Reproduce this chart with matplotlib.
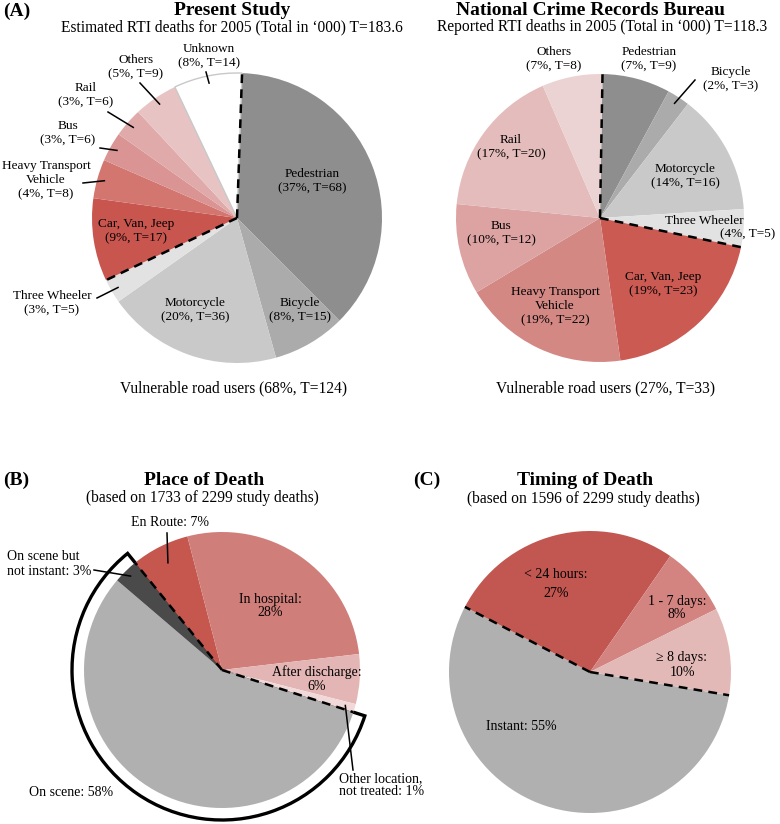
import numpy as np
import matplotlib.pyplot as plt

plt.rcParams['font.family'] = ['Liberation Serif', 'DejaVu Serif']

W, H = 780, 824

# (A) present study vs NCRB
study_labels = ['Pedestrian', 'Bicycle', 'Motorcycle', 'Three Wheeler', 'Car, Van, Jeep',
                'Heavy Transport\nVehicle', 'Bus', 'Rail', 'Others', 'Unknown']
study_pct = [37, 8, 20, 3, 9, 4, 3, 3, 5, 8]
study_T = [68, 15, 36, 5, 17, 8, 6, 6, 9, 14]
study_total = 183.6
study_vru = (68, 124)

ncrb_labels = ['Pedestrian', 'Bicycle', 'Motorcycle', 'Three Wheeler', 'Car, Van, Jeep',
               'Heavy Transport\nVehicle', 'Bus', 'Rail', 'Others']
ncrb_pct = [7, 2, 14, 4, 19, 19, 10, 17, 7]
ncrb_T = [9, 3, 16, 5, 23, 22, 12, 20, 8]
ncrb_total = 118.3
ncrb_vru = (27, 33)

# (B) place of death
place_labels = ['On scene', 'On scene but\nnot instant', 'En Route', 'In hospital',
                'After discharge', 'Other location,\nnot treated']
place_pct = [58, 3, 7, 28, 6, 1]

# (C) timing of death
timing_labels = ['Instant', '< 24 hours', '1 - 7 days', '\u2265 8 days']
timing_pct = [55, 27, 8, 10]

study_colors = ['#8e8e8e', '#ababab', '#c9c9c9', '#e2e2e2', '#c9554f',
                '#d3766f', '#d99493', '#dfaaa9', '#e7c4c3', '#ffffff']
ncrb_colors = ['#8e8e8e', '#ababab', '#c9c9c9', '#e2e2e2', '#cb5a53',
               '#d38884', '#dca3a2', '#e3bcbb', '#ecd3d3']
place_colors = ['#b0b0b0', '#4a4a4a', '#c5574f', '#d07e7a', '#e3b6b5', '#f1d9d9']
timing_colors = ['#b0b0b0', '#c25650', '#d48480', '#e3b9b8']


def Y(y):
    return H - y


def pie_at(ax, vals, cx, cy, r, colors, start):
    wedges, _ = ax.pie(vals, colors=colors, startangle=start, counterclock=False,
                       center=(cx, Y(cy)), radius=r, frame=True,
                       wedgeprops=dict(linewidth=0))
    return wedges


def rim_point(cx, cy, r, ang):
    a = np.radians(ang)
    return cx + r * np.cos(a), Y(cy) + r * np.sin(a)


def dashed(ax, cx, cy, r, ang):
    x, y = rim_point(cx, cy, r, ang)
    ax.plot([cx, x], [Y(cy), y], color='black', lw=1.8, ls=(0, (3.5, 2.5)), zorder=5)


def leader(ax, wedge, cx, cy, r, f_in, outer):
    mid = 0.5 * (wedge.theta1 + wedge.theta2)
    x, y = rim_point(cx, cy, r * f_in, mid)
    ax.plot([x, outer[0]], [y, Y(outer[1])], color='black', lw=1.1, zorder=5)


def label(ax, x, y, s, size=9.5, **kw):
    kw.setdefault('ha', 'center')
    ax.text(x, Y(y), s, size=size, va='center', multialignment=kw.get('ha'), **kw)


fig = plt.figure(figsize=(W / 100, H / 100), dpi=100)
ax = fig.add_axes([0, 0, 1, 1])
ax.set_xlim(0, W)
ax.set_ylim(0, H)
ax.set_aspect('equal')
ax.axis('off')

SUB = 11.2

# ---- (A) left: present study
cx, cy, R = 237, 218, 145
w = pie_at(ax, study_T, cx, cy, R, study_colors, 88)
w[-1].set_edgecolor('#c8c8c8')
w[-1].set_linewidth(1.0)
dashed(ax, cx, cy, R, w[0].theta2)
dashed(ax, cx, cy, R, w[3].theta1)

txt = [f'{l}\n({p}%, T={t})' for l, p, t in zip(study_labels, study_pct, study_T)]
pos = [(312, 181), (300, 310), (195, 310), (52, 303), (136, 231),
       (46, 180), (68, 133), (86, 95), (136, 67), (209, 56)]
for s, (x, y) in zip(txt, pos):
    label(ax, x, y, s)
outer = {3: (97, 298), 5: (83, 183), 6: (100, 148), 7: (108, 112), 8: (140, 83), 9: (206, 72)}
for i, p in outer.items():
    leader(ax, w[i], cx, cy, R, 0.95, p)

label(ax, 17, 11, '(A)', size=14, weight='bold')
label(ax, 232, 10, 'Present Study', size=14, weight='bold')
label(ax, 232, 27, f'Estimated RTI deaths for 2005 (Total in \u2018000) T={study_total}', size=SUB)
label(ax, 234, 388, f'Vulnerable road users ({study_vru[0]}%, T={study_vru[1]})', size=SUB)

# ---- (A) right: NCRB
cx, cy, R = 600, 218, 144
w = pie_at(ax, ncrb_T, cx, cy, R, ncrb_colors, 89)
dashed(ax, cx, cy, R, w[0].theta2)
dashed(ax, cx, cy, R, w[3].theta1)

txt = [f'{l}\n({p}%, T={t})' for l, p, t in zip(ncrb_labels, ncrb_pct, ncrb_T)]
pos = [(649, 59), (731, 79), (685, 176), None, (663, 284),
       (555, 306), (501, 233), (511, 147), (554, 59)]
for s, p in zip(txt, pos):
    if p is not None:
        label(ax, p[0], p[1], s)
label(ax, 704, 221, ncrb_labels[3])
label(ax, 748, 234, f'({ncrb_pct[3]}%, T={ncrb_T[3]})')
leader(ax, w[1], cx, cy, R, 0.95, (695, 80))

label(ax, 591, 10, 'National Crime Records Bureau', size=14, weight='bold')
label(ax, 602, 27, f'Reported RTI deaths in 2005 (Total in \u2018000) T={ncrb_total}', size=SUB)
label(ax, 605, 388, f'Vulnerable road users ({ncrb_vru[0]}%, T={ncrb_vru[1]})', size=SUB)

# ---- (B) place of death
cx, cy, R = 222, 670, 138
w = pie_at(ax, place_pct, cx, cy, R, place_colors, -17.8)
ring = plt.matplotlib.patches.Wedge((cx, Y(cy)), 150, w[1].theta1, w[0].theta2,
                                    facecolor='white', edgecolor='black', lw=2.4, zorder=0.5)
ax.add_patch(ring)
for wd in w:
    wd.set_zorder(1)
dashed(ax, cx, cy, R, w[0].theta2)
dashed(ax, cx, cy, R, w[1].theta1)

label(ax, 71, 792, f'{place_labels[0]}: {place_pct[0]}%', size=10)
label(ax, 7, 564, f'{place_labels[1]}: {place_pct[1]}%', size=10, ha='left')
label(ax, 170, 522, f'{place_labels[2]}: {place_pct[2]}%', size=10)
label(ax, 270, 606, f'{place_labels[3]}:\n{place_pct[3]}%', size=10, linespacing=1.05)
label(ax, 317, 679, f'{place_labels[4]}:\n{place_pct[4]}%', size=10, linespacing=1.05)
label(ax, 339, 785, f'{place_labels[5]}: {place_pct[5]}%', size=10, ha='left', linespacing=1.0)
leader(ax, w[2], cx, cy, R, 0.87, (167, 533))
leader(ax, w[1], cx, cy, R, 0.95, (94, 570))
leader(ax, w[5], cx, cy, R, 0.93, (353, 770))

label(ax, 16, 480, '(B)', size=14, weight='bold')
label(ax, 204, 480, 'Place of Death', size=14, weight='bold')
label(ax, 202, 498, '(based on 1733 of 2299 study deaths)', size=SUB)

# ---- (C) timing of death
cx, cy, R = 590, 672, 141
w = pie_at(ax, timing_pct, cx, cy, R, timing_colors, -9.5)
dashed(ax, cx, cy, R, w[0].theta2)
dashed(ax, cx, cy, R, w[0].theta1)

label(ax, 521, 726, f'{timing_labels[0]}: {timing_pct[0]}%', size=10)
label(ax, 556, 584, f'{timing_labels[1]}:\n{timing_pct[1]}%', size=10, linespacing=1.6)
label(ax, 677, 608, f'{timing_labels[2]}:\n{timing_pct[2]}%', size=10, linespacing=1.1)
label(ax, 682, 665, f'{timing_labels[3]}:\n{timing_pct[3]}%', size=10, linespacing=1.1)

label(ax, 427, 480, '(C)', size=14, weight='bold')
label(ax, 585, 480, 'Timing of Death', size=14, weight='bold')
label(ax, 583, 499, '(based on 1596 of 2299 study deaths)', size=SUB)

ax.set_xlim(0, W)
ax.set_ylim(0, H)
fig.savefig('out.png', dpi=100)
